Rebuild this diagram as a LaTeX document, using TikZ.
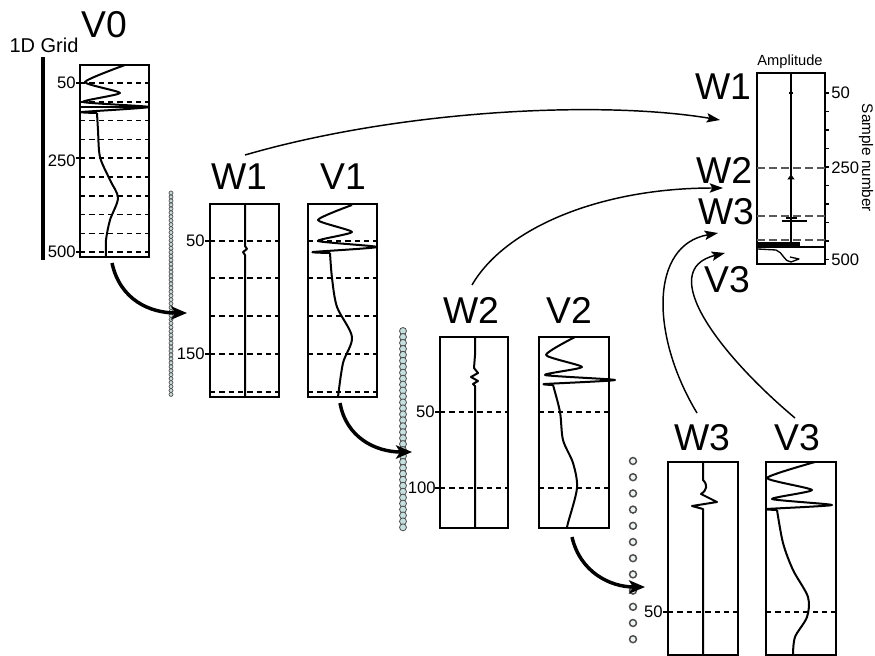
\documentclass[tikz,border=0pt]{standalone}
\usepackage{fontspec}
\setmainfont{Liberation Sans}
\usetikzlibrary{arrows.meta,fit}
\definecolor{cA}{HTML}{C8DAD8}
\definecolor{cB}{HTML}{C6E0E0}
\definecolor{cC}{HTML}{EEF4F4}
\begin{document}
\begin{tikzpicture}[x=0.75pt,y=-0.75pt,
  box/.style={draw,line width=1.5pt,inner sep=0pt},
  big/.style={font=\fontsize{28}{30}\selectfont, inner sep=0pt},
  ticklab/.style={font=\fontsize{12.5}{14}\selectfont, inner sep=0pt, anchor=east},
  rticklab/.style={font=\fontsize{12.5}{14}\selectfont, inner sep=0pt, anchor=west},
  dsh/.style={line width=1.3pt, dash pattern=on 4pt off 3pt},
  gdsh/.style={line width=1.2pt, draw=black!65, dash pattern=on 6pt off 3pt},
  sig/.style={line width=1.5pt, line join=round},
  tk/.style={line width=0.9pt},
  thickarr/.style={line width=2.6pt, -{Stealth[length=12pt,width=10pt,inset=3pt]}},
  thinarr/.style={line width=1.1pt, -{Stealth[length=10pt,width=7pt,inset=2pt]}},
]
\useasboundingbox (0,0) rectangle (875,656);

% ---------------- V0 ----------------
\node[font=\fontsize{15}{17}\selectfont, inner sep=0pt] (lgrid) at (44,45) {1D Grid};
\node[big] (lV0) at (104,25) {V0};
\draw[line width=2.6pt] (43,57) -- (43,260);
\node[box, fit={(80,65)(149,257)}] (V0) {};
\foreach \k in {0,...,9} \draw[dsh] (80,{83+18.8*\k}) -- (149,{83+18.8*\k});
\draw[tk] (76,83) -- (80,83); \node[ticklab] at (76,83) {50};
\draw[tk] (76,158) -- (80,158); \node[ticklab] at (76,161) {250};
\draw[tk] (76,252) -- (80,252); \node[ticklab] at (76,252) {500};
\draw[sig] plot[smooth,tension=0.35] coordinates {(125,65)(85,82)(120,93)(83,102)(149,107)(82,112)(97,113)};
\draw[sig] plot[smooth] coordinates {(97,113)(98,130)(100,157)(110,180)(118,198)(110,220)(106,240)(106,257)};
\draw[line width=2pt] (80,107) -- (149,107);

% column 1
\foreach \k in {0,...,51} \draw[fill=cA, draw=black!70, line width=0.5pt] (171,{193+3.95*\k}) circle[radius=1.5pt];

% ---------------- W1 / V1 ----------------
\node[big] (lW1) at (239,177) {W1};
\node[big] (lV1) at (343,177) {V1};
\node[box, fit={(210,204)(279,397)}] (W1) {};
\node[box, fit={(308,204)(377,397)}] (V1) {};
\foreach \y in {241,278,316,354,392} {
  \draw[dsh] (210,\y) -- (279,\y);
  \draw[dsh] (308,\y) -- (377,\y);
}
\draw[tk] (205,241) -- (210,241); \node[ticklab] at (205,241) {50};
\draw[tk] (205,354) -- (210,354); \node[ticklab] at (205,354) {150};
\draw[sig] (245,204) -- (245,246) -- (247,249) -- (243,252) -- (245,255) -- (245,397);
\draw[sig] plot[smooth,tension=0.35] coordinates {(352,205)(318,220)(352,232)(318,241)(377,247)(313,252)(330,253)};
\draw[sig] plot[smooth] coordinates {(330,253)(332,278)(337,307)(352,337)(343,363)(338,397)};

% column 2
\foreach \k in {0,...,33} \draw[fill=cB, draw=black!70, line width=0.6pt] (403,{331+5.95*\k}) circle[radius=2.6pt];

% ---------------- W2 / V2 ----------------
\node[big] (lW2) at (471,310) {W2};
\node[big] (lV2) at (569,310) {V2};
\node[box, fit={(440,337)(508,528)}] (W2) {};
\node[box, fit={(539,337)(609,528)}] (V2) {};
\foreach \y in {412,488} {
  \draw[dsh] (440,\y) -- (508,\y);
  \draw[dsh] (539,\y) -- (609,\y);
}
\draw[tk] (435,412) -- (440,412); \node[ticklab] at (435,412) {50};
\draw[tk] (435,488) -- (440,488); \node[ticklab] at (436,488) {100};
\draw[sig] (475,337) -- (475,355) -- (474,368) -- (478,373) -- (471,377) -- (478,381) -- (473,384) -- (475,386) -- (475,528);
\draw[sig] plot[smooth,tension=0.35] coordinates {(575,337)(546,355)(582,367)(545,375)(615,380)(545,384)(553,385)};
\draw[sig] plot[smooth] coordinates {(553,385)(560,412)(563,440)(573,463)(577,488)(568,523)(567,528)};

% column 3
\foreach \k in {0,...,11} \draw[fill=cC, draw=black!70, line width=1.1pt] (633,{461+16.2*\k}) circle[radius=2.6pt];

% ---------------- W3 / V3 ----------------
\node[big] (lW3) at (702,438) {W3};
\node[big] (lV3) at (797,438) {V3};
\node[box, fit={(668,462)(738,655)}] (W3) {};
\node[box, fit={(766,462)(836,655)}] (V3) {};
\draw[dsh] (668,612) -- (738,612);
\draw[dsh] (766,612) -- (836,612);
\draw[tk] (663,612) -- (668,612); \node[ticklab] at (663,612) {50};
\draw[sig] (703,462) -- (703,480) .. controls (708,485) and (707,490) .. (701,494) -- (717,502) -- (692,506) -- (703,509) -- (703,655);
\draw[sig] plot[smooth,tension=0.35] coordinates {(815,462)(767,478)(812,490)(772,499)(832,505)(767,509)(777,510)};
\draw[sig] plot[smooth] coordinates {(777,510)(783,543)(793,570)(808,597)(807,617)(795,637)(793,655)};

% ---------------- result panel ----------------
\node[font=\fontsize{11}{13}\selectfont, inner sep=0pt] (lamp) at (790,62) {Amplitude};
\node[font=\fontsize{11.5}{13}\selectfont, inner sep=0pt, rotate=-90] (lsn) at (866,158) {Sample number};
\node[box, fit={(757,73)(825,264)}] (R) {};
\foreach \k in {0,...,9} \draw[tk] (825,{93+18.5*\k}) -- (829,{93+18.5*\k});
\node[rticklab] at (831,93) {50};
\node[rticklab] at (831,168) {250};
\node[rticklab] at (831,260) {500};
\draw[gdsh] (757,168) -- (825,168);
\draw[gdsh] (757,216) -- (825,216);
\draw[gdsh] (757,240) -- (825,240);
\draw[line width=1.1pt] (791,73) -- (791,243);
\draw[line width=0.8pt] (789,93) -- (793,93);
\draw[fill=black] (788,179) -- (794,179) -- (791,175) -- cycle;
\draw[line width=1pt] (782,221) -- (807,221);
\draw[line width=0.8pt] (786,218) -- (797,218);
\draw[line width=2.4pt] (757,244) -- (800,244);
\draw[line width=1.1pt] (757,247) -- (825,247);
\draw[sig, line width=1pt] (758,249) -- (776,250) .. controls (783,252) and (784,262) .. (791,262) -- (799,259) -- (790,257);

\node[big] (rW1) at (723,87) {W1};
\node[big] (rW2) at (724,170) {W2};
\node[big] (rW3) at (726,212) {W3};
\node[big] (rV3) at (727,280) {V3};

% ---------------- connectors ----------------
\coordinate (sW1) at (245,155);
\coordinate (tW1) at (720,120);
\coordinate (sW2) at (472,285);
\coordinate (tW2) at (723,188);
\coordinate (sW3) at (697,413);
\coordinate (tW3) at (718,233);
\coordinate (sV3) at (795,418);
\coordinate (tV3) at (725,253);
\draw[thinarr] (sW1) .. controls (400,110) and (600,100) .. (tW1);
\draw[thinarr] (sW2) .. controls (505,228) and (600,188) .. (tW2);
\draw[thinarr] (sW3) .. controls (650,335) and (650,245) .. (tW3);
\draw[thinarr] (sV3) .. controls (720,355) and (655,270) .. (tV3);

\coordinate (a0) at (112,263);
\coordinate (c1) at (187,313);
\coordinate (a1) at (340,403);
\coordinate (c2) at (412,452);
\coordinate (a2) at (572,537);
\coordinate (c3) at (645,587);
\draw[thickarr] (a0) .. controls (120,300) and (150,313) .. (c1);
\draw[thickarr] (a1) .. controls (346,437) and (375,452) .. (c2);
\draw[thickarr] (a2) .. controls (580,572) and (610,587) .. (c3);
\end{tikzpicture}
\end{document}
